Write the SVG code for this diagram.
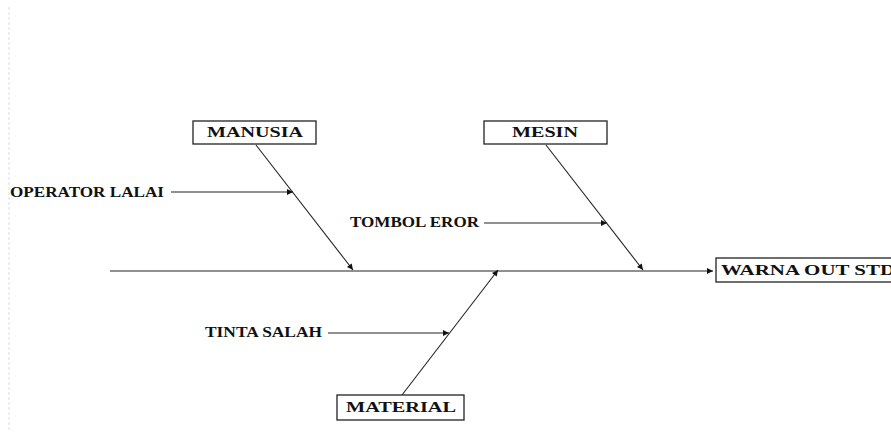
<svg xmlns="http://www.w3.org/2000/svg" width="891" height="434" viewBox="0 0 891 434">
<defs>
<marker id="ah" viewBox="0 0 10 10" refX="10" refY="5" markerWidth="8" markerHeight="6" markerUnits="userSpaceOnUse" orient="auto">
<path d="M0,0 L10,5 L0,10 z" fill="#111"/>
</marker>
</defs>
<style>
.box{fill:#fff;stroke:#222;stroke-width:1.3}
.bt{font-family:"Liberation Serif","Times New Roman",serif;font-weight:bold;font-size:15px;fill:#111}
.lt{font-family:"Liberation Serif","Times New Roman",serif;font-weight:bold;font-size:14px;fill:#111}
.ln{stroke:#222;stroke-width:1.1;fill:none}
</style>
<rect width="891" height="434" fill="#fff"/>
<line x1="9" y1="7" x2="9" y2="430" stroke="#ddd" stroke-width="1" stroke-dasharray="3,2"/>
<g id="connectors">
<line class="ln" x1="110" y1="271" x2="713" y2="271" marker-end="url(#ah)"/>
<line class="ln" x1="256" y1="145" x2="353" y2="270" marker-end="url(#ah)"/>
<line class="ln" x1="546" y1="145" x2="643" y2="270" marker-end="url(#ah)"/>
<line class="ln" x1="402" y1="395" x2="498" y2="270" marker-end="url(#ah)"/>
<line class="ln" x1="171" y1="192" x2="293" y2="192" marker-end="url(#ah)"/>
<line class="ln" x1="484" y1="223" x2="607" y2="223" marker-end="url(#ah)"/>
<line class="ln" x1="328" y1="333" x2="449" y2="333" marker-end="url(#ah)"/>
</g>
<g id="manusia">
<rect class="box" x="193" y="121" width="123" height="23"/>
<text class="bt" x="207" y="137" textLength="96" lengthAdjust="spacingAndGlyphs">MANUSIA</text>
</g>
<g id="mesin">
<rect class="box" x="484" y="121" width="123" height="23"/>
<text class="bt" x="512" y="137" textLength="66" lengthAdjust="spacingAndGlyphs">MESIN</text>
</g>
<g id="material">
<rect class="box" x="337" y="395" width="127" height="25"/>
<text class="bt" x="346" y="412" textLength="110" lengthAdjust="spacingAndGlyphs">MATERIAL</text>
</g>
<g id="warna">
<rect class="box" x="716" y="258" width="190" height="24"/>
<text class="bt" x="721" y="275" textLength="174" lengthAdjust="spacingAndGlyphs">WARNA OUT STD</text>
</g>
<g id="operator-lalai">
<text class="lt" x="10" y="197" textLength="154" lengthAdjust="spacingAndGlyphs">OPERATOR LALAI</text>
</g>
<g id="tombol-eror">
<text class="lt" x="350" y="227" textLength="129" lengthAdjust="spacingAndGlyphs">TOMBOL EROR</text>
</g>
<g id="tinta-salah">
<text class="lt" x="205" y="337" textLength="117" lengthAdjust="spacingAndGlyphs">TINTA SALAH</text>
</g>
</svg>
